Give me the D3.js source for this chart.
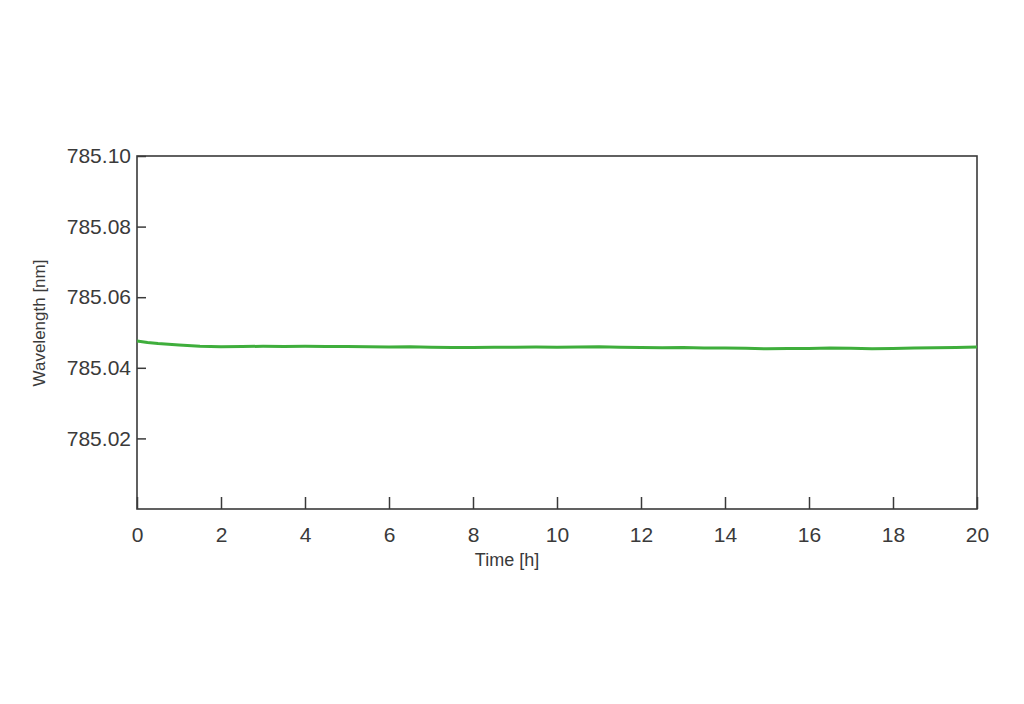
<!DOCTYPE html>
<html>
<head>
<meta charset="utf-8">
<script src="https://cdn.jsdelivr.net/npm/d3@7"></script>
<style>
  html, body { margin: 0; padding: 0; background: #fff; }
  svg text { font-family: "Liberation Sans", Arial, Helvetica, sans-serif; }
</style>
</head>
<body>
<svg id="chart" width="1024" height="704"></svg>
<script>
const timeHours = [0,0.25,0.5,0.75,1,1.5,2,2.5,3,3.5,4,4.5,5,5.5,6,6.5,7,7.5,8,8.5,9,9.5,10,10.5,11,11.5,12,12.5,13,13.5,14,14.5,15,15.5,16,16.5,17,17.5,18,18.5,19,19.5,20];
const wavelengthNm = [785.04759,785.04717,785.04688,785.04666,785.04646,785.04612,785.04595,785.04603,785.04609,785.04606,785.04609,785.04601,785.04603,785.04598,785.04589,785.04595,785.04584,785.04575,785.04578,785.04581,785.04584,785.04589,785.04584,785.04592,785.04595,785.04581,785.04572,785.04567,785.04575,785.04564,785.04561,785.04552,785.04538,785.04544,785.04550,785.04561,785.04552,785.04541,785.04547,785.04561,785.04567,785.04575,785.04589];
const xTicks = [0,2,4,6,8,10,12,14,16,18,20];
const yTicks = [785.02,785.04,785.06,785.08,785.10];

const svg = d3.select("#chart");
const mLeft = 137, mRight = 977, mTop = 156, mBottom = 509;
const x = d3.scaleLinear().domain([0,20]).range([mLeft,mRight]);
const y = d3.scaleLinear().domain([785.00,785.10]).range([mBottom,mTop]);
const ink = "#3a3a3a";

// frame
svg.append("rect").attr("x",mLeft).attr("y",mTop).attr("width",mRight-mLeft).attr("height",mBottom-mTop)
  .attr("fill","none").attr("stroke",ink).attr("stroke-width",1.6);

// data line
const line = d3.line().x((d,i)=>x(timeHours[i])).y(d=>y(d)).curve(d3.curveLinear);
svg.append("path").datum(wavelengthNm).attr("d",line)
  .attr("fill","none").attr("stroke","#3fae3c").attr("stroke-width",3).attr("stroke-linejoin","round");

// y axis
const yAxis = d3.axisLeft(y).tickValues(yTicks).tickSize(-9).tickPadding(6).tickFormat(d3.format(".2f"));
const gy = svg.append("g").attr("transform",`translate(${mLeft},0)`).call(yAxis);
gy.select(".domain").remove();
gy.selectAll(".tick line").attr("stroke",ink).attr("stroke-width",1.5);
gy.selectAll(".tick text").attr("fill",ink).style("font-size","21px");

// x axis
const xAxis = d3.axisBottom(x).tickValues(xTicks).tickSize(-12).tickPadding(18).tickFormat(d3.format("d"));
const gx = svg.append("g").attr("transform",`translate(0,${mBottom})`).call(xAxis);
gx.select(".domain").remove();
gx.selectAll(".tick line").attr("stroke",ink).attr("stroke-width",1.5);
gx.selectAll(".tick text").attr("fill",ink).style("font-size","21px");

// axis titles
svg.append("text").attr("x",507).attr("y",566).attr("text-anchor","middle")
  .attr("fill",ink).style("font-size","18px").text("Time [h]");
svg.append("text").attr("transform","translate(45,323) rotate(-90)").attr("text-anchor","middle")
  .attr("fill",ink).style("font-size","17px").text("Wavelength [nm]");
</script>
</body>
</html>
